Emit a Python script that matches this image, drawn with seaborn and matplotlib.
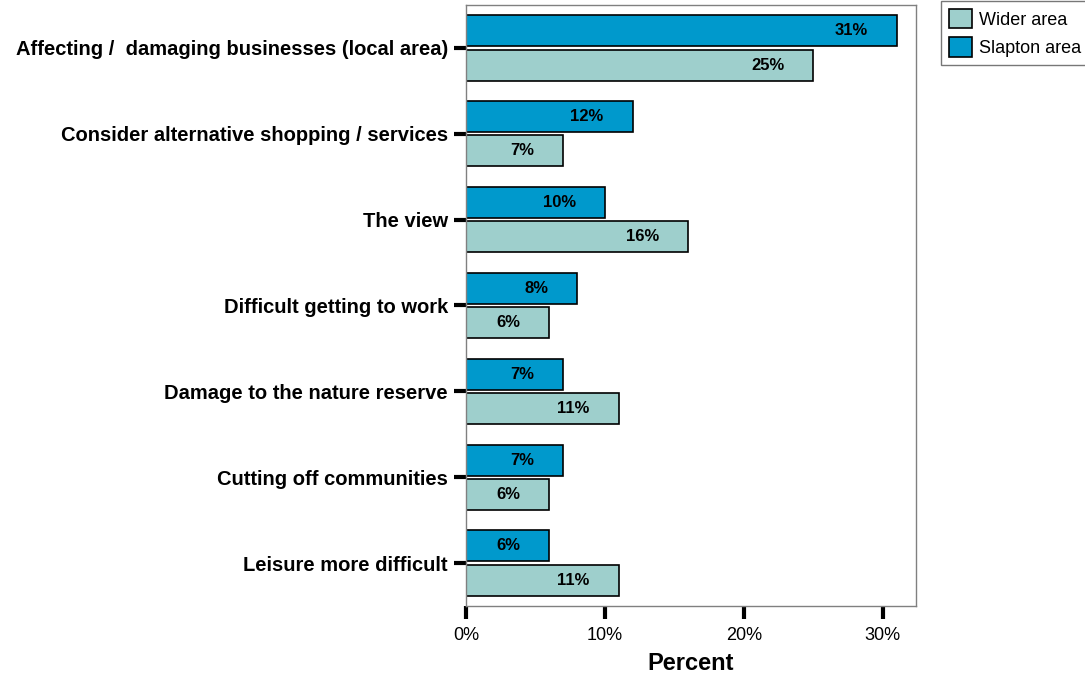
import matplotlib; matplotlib.use('Agg')
import pandas as pd
import seaborn as sns
import matplotlib.pyplot as plt
from matplotlib.patches import Patch
from matplotlib.ticker import FuncFormatter

# chart data
categories = [
    'Affecting /  damaging businesses (local area)',
    'Consider alternative shopping / services',
    'The view',
    'Difficult getting to work',
    'Damage to the nature reserve',
    'Cutting off communities',
    'Leisure more difficult',
]
slapton = [31, 12, 10, 8, 7, 7, 6]
wider = [25, 7, 16, 6, 11, 6, 11]
groups = ['Slapton area', 'Wider area']
colors = {'Slapton area': '#0099cc', 'Wider area': '#9ecfcc'}

df = pd.DataFrame({
    'category': categories * 2,
    'area': [groups[0]] * len(categories) + [groups[1]] * len(categories),
    'percent': slapton + wider,
})

sns.set_style('white')
plt.rcParams['font.family'] = ['Liberation Sans', 'DejaVu Sans']
plt.rcParams['text.color'] = 'black'
plt.rcParams['xtick.color'] = 'black'
plt.rcParams['ytick.color'] = 'black'
plt.rcParams['axes.labelcolor'] = 'black'

fig = plt.figure(figsize=(10.85, 6.81), dpi=100)
ax = fig.add_axes([0.4295, 0.1101, 0.4147, 0.8826])

sns.barplot(data=df, y='category', x='percent', hue='area', hue_order=groups,
            palette=colors, saturation=1, orient='h', gap=0.1, width=0.8,
            edgecolor='black', linewidth=1.2, legend=False, ax=ax)

# value labels inside the bars
for cont in ax.containers:
    for bar in cont:
        w = bar.get_width()
        ax.annotate(f'{w:.0f}%', (w, bar.get_y() + bar.get_height() / 2),
                    xytext=(-29, 0), textcoords='offset pixels',
                    ha='right', va='center', fontsize=12, fontweight='bold')

ax.set_xlim(0, 32.4)
ax.set_ylim(6.5, -0.5)
ax.set_xticks([0, 10, 20, 30])
ax.xaxis.set_major_formatter(FuncFormatter(lambda v, p: f'{v:.0f}%'))
ax.set_xlabel('Percent', fontsize=17, fontweight='bold', labelpad=6)
ax.set_ylabel('')
ax.tick_params(axis='x', length=9, width=3, labelsize=13, pad=6, bottom=True)
ax.tick_params(axis='y', length=9, width=3, labelsize=14.5, pad=4, left=True)
for lab in ax.get_yticklabels():
    lab.set_fontweight('bold')

for s in ax.spines.values():
    s.set_color('#808080')
    s.set_linewidth(1)

handles = [Patch(facecolor=colors[g], edgecolor='black', linewidth=1.2, label=g)
           for g in ['Wider area', 'Slapton area']]
fig.legend(handles=handles, loc='upper left', bbox_to_anchor=(0.867, 0.999),
           fontsize=13, frameon=True, fancybox=False, edgecolor='#555555',
           handlelength=1.3, handleheight=1.3, handletextpad=0.35,
           borderpad=0.45, labelspacing=0.45, borderaxespad=0)

fig.savefig('out.png', dpi=100)
